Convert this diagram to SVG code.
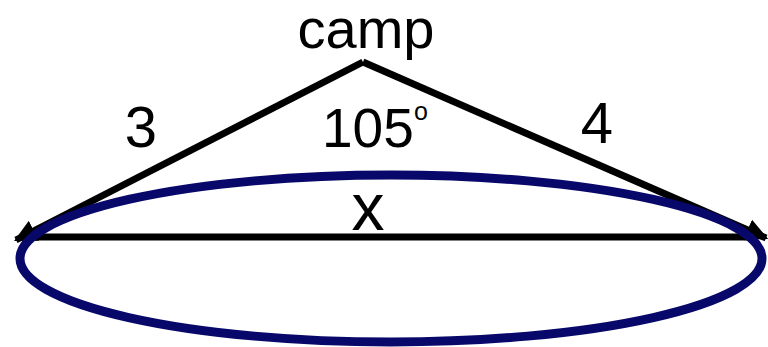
<svg xmlns="http://www.w3.org/2000/svg" width="768" height="347" viewBox="0 0 768 347">
<style>
.t{font-family:"Liberation Sans",Arial,sans-serif;fill:#000}
.ln{stroke:#000;stroke-width:7;fill:none}
</style>
<defs>
<marker id="ah" viewBox="0 0 10 10" refX="9" refY="5" markerWidth="3.2" markerHeight="3.2" orient="auto" markerUnits="strokeWidth">
<path d="M0,0 L10,5 L0,10 z" fill="#000"/>
</marker>
</defs>
<rect width="768" height="347" fill="#fff"/>
<g id="connectors">
<line class="ln" x1="363" y1="62" x2="16" y2="240" marker-end="url(#ah)"/>
<line class="ln" x1="363" y1="62" x2="766" y2="238" marker-end="url(#ah)"/>
<line class="ln" x1="22" y1="237" x2="758" y2="237"/>
</g>
<g id="ellipse">
<ellipse cx="391" cy="258.5" rx="371" ry="83.5" fill="none" stroke="#08086a" stroke-width="9"/>
</g>
<g id="labels">
<text class="t" x="366" y="48" font-size="56" text-anchor="middle">camp</text>
<text class="t" x="141" y="147" font-size="58" text-anchor="middle">3</text>
<text class="t" x="597" y="143" font-size="58" text-anchor="middle">4</text>
<text class="t" x="322" y="147" font-size="55">105</text>
<text class="t" x="414" y="120" font-size="25">o</text>
<text class="t" x="368" y="230" font-size="66" text-anchor="middle">x</text>
</g>
</svg>
